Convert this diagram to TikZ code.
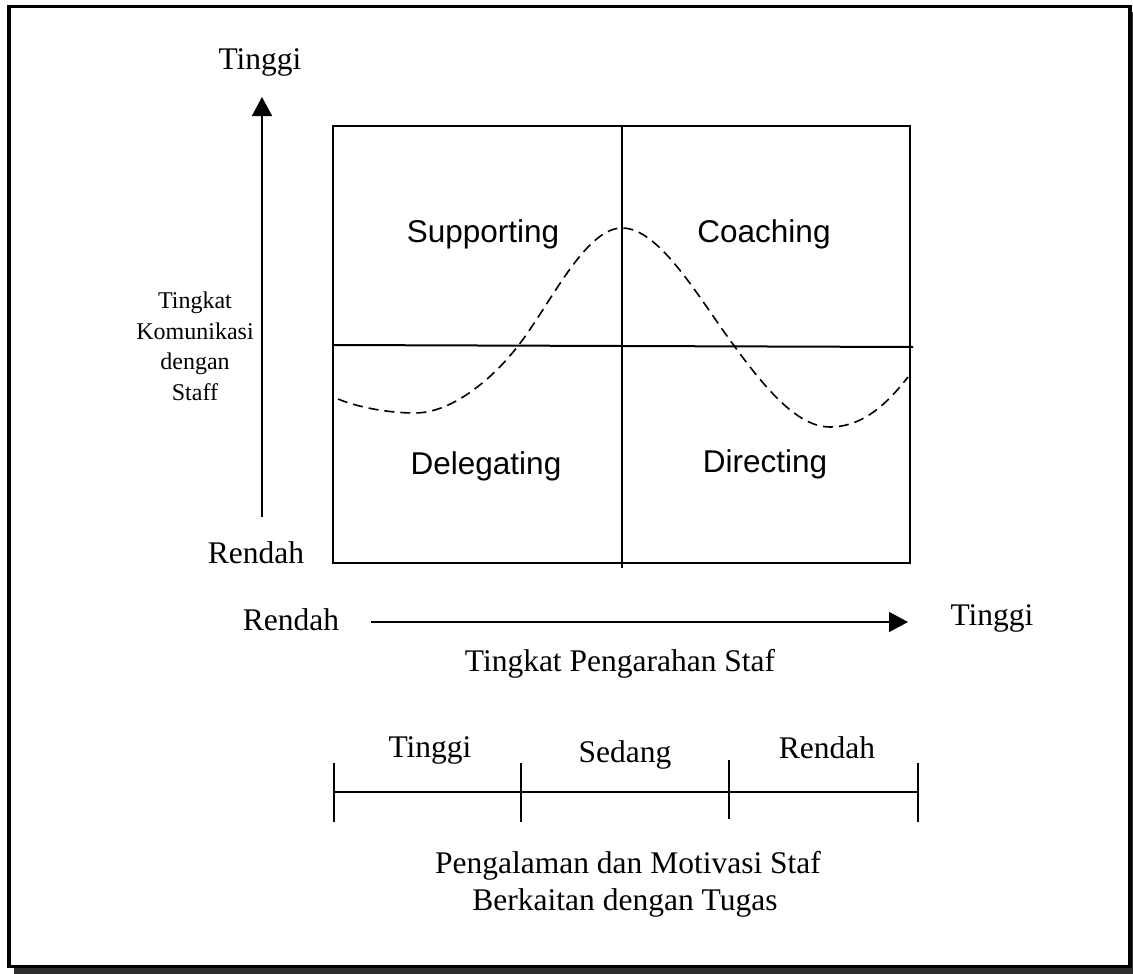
\documentclass[tikz,border=0pt]{standalone}
\usepackage{fontspec}
\setmainfont{Liberation Serif}
\setsansfont{Liberation Sans}
\usetikzlibrary{arrows.meta}
\begin{document}
\begin{tikzpicture}[x=1pt,y=-1pt,
  lbl/.style={font=\fontsize{31.5}{31.5}\selectfont, inner sep=0pt, anchor=base},
  quadlbl/.style={font=\sffamily\fontsize{31.5}{31.5}\selectfont, inner sep=0pt, anchor=base},
  axisarrow/.style={line width=1.4pt, -{Triangle[length=19pt,width=20pt]}},
  boxline/.style={line width=2pt},
  wave/.style={line width=1.6pt, dash pattern=on 10pt off 6pt},
  scalebar/.style={line width=1.6pt}]
\useasboundingbox (0,0) rectangle (1133,974);

% page frame with drop shadow
\fill[black!82] (14,12) rectangle (1136,974);
\filldraw[fill=white, line width=3.5pt] (9,6.5) rectangle (1130,966.5);

% quadrant box
\draw[boxline] (333,126) rectangle (910,563);
\coordinate (midtop) at (622,126);
\coordinate (midbot) at (622,568);
\coordinate (midleft) at (333,345);
\coordinate (midright) at (913,347);
\draw[boxline] (midtop) -- (midbot);
\draw[boxline] (midleft) -- (midright);

% quadrant labels
\node[quadlbl] (sup) at (483,242) {Supporting};
\node[quadlbl] (coa) at (764,242) {Coaching};
\node[quadlbl] (del) at (486,474) {Delegating};
\node[quadlbl] (dir) at (765,472) {Directing};

% situational curve
\draw[wave] (338,399) .. controls (360,408) and (390,413) .. (415,413)
  .. controls (450,413) and (490,382) .. (518,346)
  .. controls (550,305) and (585,228) .. (622,228)
  .. controls (660,228) and (700,300) .. (735,347)
  .. controls (770,395) and (800,427) .. (830,427)
  .. controls (865,427) and (890,400) .. (908,377);

% vertical axis
\coordinate (ybot) at (262,517);
\coordinate (ytop) at (262,97);
\draw[axisarrow] (ybot) -- (ytop);
\node[lbl] (yhigh) at (260,70) {Tinggi};
\node[lbl] (ylow) at (256,563) {Rendah};
% base anchor of a multi-line node sits on its last line
\node[lbl, font=\fontsize{24}{30.5}\selectfont, align=center] (ytitle) at (195,400)
  {Tingkat\\Komunikasi\\dengan\\Staff};

% horizontal axis
\coordinate (xleft) at (371,622);
\coordinate (xright) at (908,622);
\draw[axisarrow] (xleft) -- (xright);
\node[lbl] (xlow) at (291,630) {Rendah};
\node[lbl] (xhigh) at (992,625) {Tinggi};
\node[lbl] (xtitle) at (620,671) {Tingkat Pengarahan Staf};

% maturity scale
\coordinate (s0) at (334,792);
\coordinate (s1) at (521,792);
\coordinate (s2) at (729,792);
\coordinate (s3) at (918,792);
\draw[scalebar] (s0) -- (s3);
\draw[scalebar] (334,763) -- (334,822);
\draw[scalebar] (521,763) -- (521,822);
\draw[scalebar] (729,760) -- (729,819);
\draw[scalebar] (918,763) -- (918,822);
\node[lbl] (shigh) at (430,757) {Tinggi};
\node[lbl] (smid) at (625,762) {Sedang};
\node[lbl] (slow) at (827,758) {Rendah};
\node[lbl] (stitle1) at (628,873) {Pengalaman dan Motivasi Staf};
\node[lbl] (stitle2) at (625,910) {Berkaitan dengan Tugas};
\end{tikzpicture}
\end{document}
